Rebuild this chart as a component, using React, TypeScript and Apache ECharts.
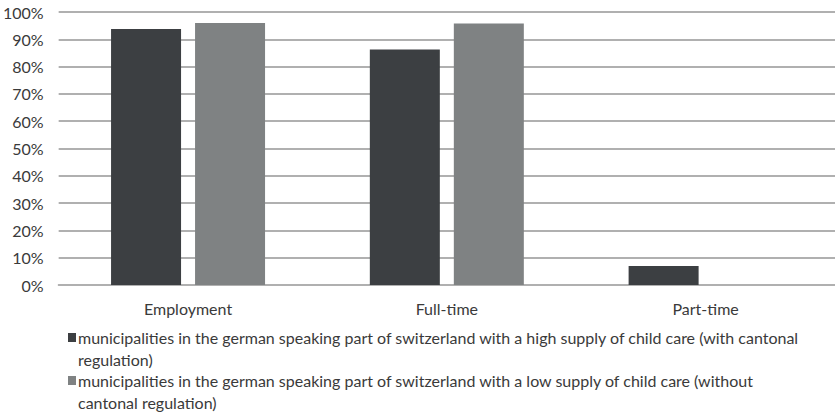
import React, { useEffect, useRef } from "react";
import * as echarts from "echarts";

const categories = ["Employment", "Full-time", "Part-time"];
const seriesNames = [
  "municipalities in the german speaking part of switzerland with a high supply of child care (with cantonal regulation)",
  "municipalities in the german speaking part of switzerland with a low supply of child care (without cantonal regulation)",
];
const legendLines = [
  ["municipalities in the german speaking part of switzerland with a high supply of child care (with cantonal", "regulation)"],
  ["municipalities in the german speaking part of switzerland with a low supply of child care (without", "cantonal regulation)"],
];
const highSupply = [93.8, 86.3, 7.0];
const lowSupply = [96.0, 95.8, 0];
const colors = ["#3c3f42", "#7f8283"];

const FONT = "Lato, 'Liberation Sans', sans-serif";

export default function App() {
  const ref = useRef<HTMLDivElement>(null);
  useEffect(() => {
    if (!ref.current) return;
    const chart = echarts.init(ref.current, undefined, { renderer: "svg" });
    const legendGraphics: any[] = [];
    const tops = [327, 370];
    legendLines.forEach((lines, i) => {
      legendGraphics.push({
        type: "rect",
        shape: { x: 68, y: tops[i] + 6, width: 8, height: 9 },
        style: { fill: colors[i] },
      });
      legendGraphics.push({
        type: "text",
        x: 78,
        y: tops[i],
        style: {
          text: lines.join("\n"),
          font: `16px ${FONT}`,
          fill: "#3a3a3a",
          lineHeight: 21.5,
          textVerticalAlign: "top",
        },
      });
    });
    chart.setOption({
      animation: false,
      grid: { left: 58, top: 12, width: 795, height: 273, containLabel: false },
      xAxis: {
        type: "category",
        data: categories,
        axisLine: { show: true, lineStyle: { color: "#b0b0b0", width: 2 } },
        axisTick: { show: false },
        axisLabel: { color: "#3a3a3a", fontSize: 16, fontFamily: FONT, margin: 15 },
      },
      yAxis: {
        type: "value",
        min: 0,
        max: 100,
        interval: 10,
        axisLine: { show: false },
        axisTick: { show: false },
        axisLabel: {
          color: "#3a3a3a",
          fontSize: 16,
          fontFamily: FONT,
          margin: 15,
          formatter: (v: number) => `${v}%`,
        },
        splitLine: { lineStyle: { color: "#b0b0b0", width: 2 } },
      },
      series: [
        {
          name: seriesNames[0],
          type: "bar",
          data: highSupply,
          barWidth: 70,
          barGap: "20%",
          itemStyle: { color: colors[0] },
        },
        {
          name: seriesNames[1],
          type: "bar",
          data: lowSupply,
          barWidth: 70,
          barGap: "20%",
          itemStyle: { color: colors[1] },
        },
      ],
      graphic: legendGraphics,
    });
    return () => chart.dispose();
  }, []);
  return (
    <div
      ref={ref}
      style={{ position: "fixed", left: 0, top: 0, width: 835, height: 412, background: "#fff" }}
    />
  );
}
